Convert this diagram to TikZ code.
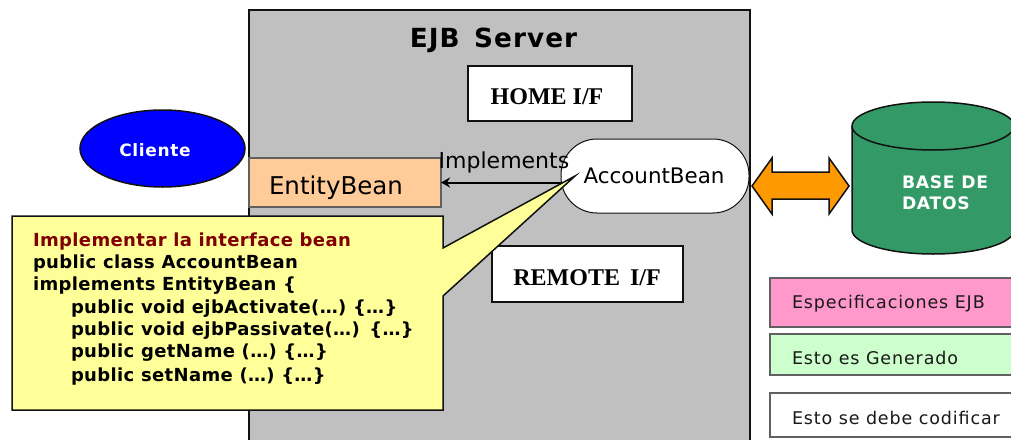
\documentclass[tikz,border=0pt]{standalone}
\usepackage{fontspec}
\setmainfont{DejaVu Sans}
\newfontfamily\serifb{Liberation Serif}
\newfontfamily\spacedf{DejaVu Sans}[LetterSpace=2]
\newfontfamily\spacedl{DejaVu Sans}[LetterSpace=5]
\newfontfamily\spacedt{DejaVu Sans}[LetterSpace=4]
\usetikzlibrary{arrows.meta,shapes.geometric}
\definecolor{srv}{HTML}{C0C0C0}
\definecolor{peach}{HTML}{FFCC99}
\definecolor{lemon}{HTML}{FFFF99}
\definecolor{dbg}{HTML}{339966}
\definecolor{orng}{HTML}{FF9900}
\definecolor{pinkb}{HTML}{FF99CC}
\definecolor{greenb}{HTML}{CCFFCC}
\definecolor{darkr}{HTML}{800000}
\definecolor{edge}{HTML}{111111}
\definecolor{gedge}{HTML}{606060}
\tikzset{
  x=1pt,y=-1pt,
  every node/.style={inner sep=0pt,outer sep=0pt},
  boxat/.style={draw=edge,line width=1.5pt,rectangle,anchor=north west},
  legend/.style={draw=gedge,line width=1.5pt,rectangle,anchor=north west,minimum width=260pt},
  serifbox/.style={boxat,fill=white},
  seriftext/.style={anchor=base,font=\serifb\fontsize{24}{28}\selectfont\bfseries},
  codeline/.style={anchor=base west,font=\spacedf\fontsize{18}{21}\selectfont\bfseries,text=black},
  legtext/.style={anchor=base west,font=\spacedl\fontsize{17.5}{20}\selectfont,text=black!90},
  dbtext/.style={anchor=base west,text=white,font=\spacedt\fontsize{17.2}{20}\selectfont\bfseries},
}
\begin{document}
\begin{tikzpicture}
\useasboundingbox (0,0) rectangle (1011,439);
\clip (0,0) rectangle (1011,439);
\fill[white] (0,0) rectangle (1011,439);
% server
\node[boxat,fill=srv,minimum width=501pt,minimum height=460pt] (server) at (249,10) {};
\node[anchor=base,font=\spacedt\fontsize{26.3}{30}\selectfont\bfseries] (servert) at (493.5,47) {EJB\, Server};
% home / remote
\node[serifbox,minimum width=164pt,minimum height=55pt] (home) at (468,66) {};
\node[seriftext] (homet) at (547,104) {HOME I/F};
\node[serifbox,minimum width=191pt,minimum height=56pt] (remote) at (492,246) {};
\node[seriftext] (remotet) at (587,285) {REMOTE\, I/F};
% cliente
\node[draw=edge,line width=1.5pt,fill=blue,ellipse,minimum width=165pt,minimum height=77pt] (cliente) at (162.5,148.5) {};
\node[text=white,font=\spacedt\fontsize{17}{20}\selectfont\bfseries,anchor=base] (clientet) at (155,156) {Cliente};
% entity bean
\node[draw=gedge,line width=1.5pt,fill=peach,rectangle,anchor=north west,minimum width=192pt,minimum height=49pt] (entity) at (249,158) {};
\node[anchor=base west,font=\fontsize{24.5}{29}\selectfont] (entityt) at (269,194) {EntityBean};
% account bean
\node[draw=edge,line width=1pt,fill=white,rectangle,rounded corners=36pt,anchor=north west,minimum width=188pt,minimum height=74pt] (account) at (561,139) {};
\node[anchor=base,font=\fontsize{21.4}{25}\selectfont] (accountt) at (654,183) {AccountBean};
% implements
\node[anchor=base,font=\fontsize{22}{26}\selectfont] (impl) at (504,168) {Implements};
\draw[line width=2pt,-{Stealth[length=9pt,width=10pt]}] (entity.east -| account.west) -- (entity.east);
% callout
\coordinate (tip) at (575,176);
\coordinate (ca) at (12,216);
\coordinate (cb) at (443,410);
\draw[fill=lemon,draw=edge,line width=1.5pt,line join=miter] (ca) -- (cb |- ca) -- (443,248) -- (tip) -- (443,296) -- (cb) -- (ca |- cb) -- cycle;
\node[codeline,text=darkr] (c1) at (33,246) {Implementar la interface bean};
\node[codeline] (c2) at (33,268) {public class AccountBean};
\node[codeline] (c3) at (33,290) {implements EntityBean \{};
\node[codeline] (c4) at (71,313) {public void ejbActivate(…) \{…\}};
\node[codeline] (c5) at (71,335) {public void ejbPassivate(…)\, \{…\}};
\node[codeline] (c6) at (71,357) {public getName (…) \{…\}};
\node[codeline] (c7) at (71,381) {public setName (…) \{…\}};
% database
\fill[dbg] (852,126) -- (852,230) arc[start angle=180,end angle=0,x radius=81pt,y radius=-24pt] -- (1014,126) -- cycle;
\draw[edge,line width=1.5pt,fill=dbg] (852,230) -- (852,126) arc[start angle=180,end angle=0,x radius=81pt,y radius=24pt] -- (1014,230) arc[start angle=0,end angle=180,x radius=81pt,y radius=-24pt];
\draw[edge,line width=1.5pt] (852,126) arc[start angle=180,end angle=0,x radius=81pt,y radius=-24pt];
\node[dbtext] (db1) at (902,188) {BASE DE};
\node[dbtext] (db2) at (902,209) {DATOS};
% double arrow
\draw[edge,line width=1.5pt,fill=orng,line join=miter] (752,186) -- (772,158) -- (772,172) -- (829,172) -- (829,158) -- (849,186) -- (829,214) -- (829,199) -- (772,199) -- (772,214) -- cycle;
% legend
\node[legend,fill=pinkb,minimum height=49pt] (l1) at (770,278) {};
\node[legtext] (l1t) at (792,308) {Especificaciones EJB};
\node[legend,fill=greenb,minimum height=41pt] (l2) at (770,334) {};
\node[legtext] (l2t) at (792,364) {Esto es Generado};
\node[legend,fill=white,minimum height=44pt] (l3) at (770,393) {};
\node[legtext] (l3t) at (792,424) {Esto se debe codificar};
\end{tikzpicture}
\end{document}
